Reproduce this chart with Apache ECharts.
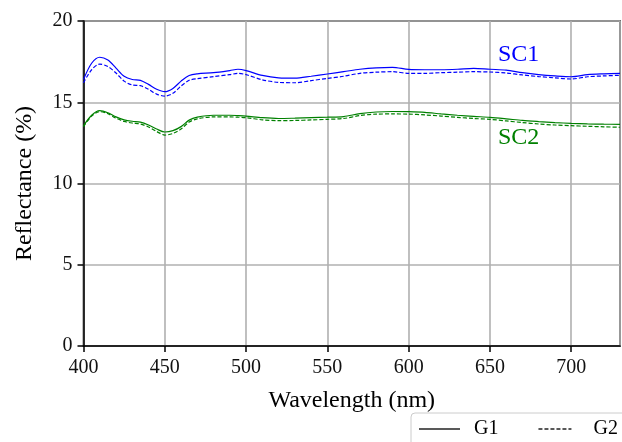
<!DOCTYPE html>
<html>
<head>
<meta charset="utf-8">
<script src="https://cdn.jsdelivr.net/npm/echarts@6/dist/echarts.min.js"></script>
<style>
html,body{margin:0;padding:0;background:#fff;}
#chart{width:622px;height:442px;}
</style>
</head>
<body>
<div id="chart"></div>
<script>
var wavelengths = [400,405,410,415,420,425,430,435,440,445,450,455,460,465,470,480,490,495,500,510,520,530,540,550,560,570,580,590,600,610,620,630,640,650,660,670,680,690,700,710,720,730];
var sc1G1 = [16.4,17.4,17.77,17.6,17.1,16.6,16.4,16.35,16.1,15.8,15.65,15.85,16.3,16.65,16.75,16.82,16.95,17.03,16.95,16.65,16.5,16.48,16.6,16.74,16.88,17.03,17.12,17.15,17.02,17.0,17.0,17.03,17.09,17.03,16.98,16.82,16.7,16.62,16.57,16.7,16.75,16.78];
var sc1G2 = [16.2,17.0,17.35,17.2,16.8,16.3,16.06,16.02,15.8,15.5,15.38,15.55,16.0,16.35,16.45,16.58,16.7,16.78,16.7,16.38,16.22,16.2,16.33,16.47,16.6,16.78,16.85,16.88,16.78,16.78,16.82,16.85,16.88,16.86,16.8,16.68,16.58,16.5,16.43,16.57,16.62,16.66];
var sc2G1 = [13.55,14.2,14.48,14.35,14.1,13.92,13.83,13.78,13.6,13.35,13.17,13.25,13.5,13.9,14.08,14.2,14.2,14.18,14.15,14.05,14.0,14.02,14.05,14.08,14.12,14.3,14.4,14.43,14.42,14.38,14.28,14.2,14.13,14.07,13.98,13.88,13.81,13.75,13.7,13.67,13.65,13.64];
var sc2G2 = [13.5,14.15,14.42,14.3,14.02,13.82,13.72,13.66,13.48,13.2,12.98,13.08,13.35,13.78,13.98,14.1,14.1,14.08,14.05,13.92,13.87,13.88,13.91,13.95,14.0,14.18,14.27,14.28,14.27,14.22,14.15,14.07,14.0,13.95,13.85,13.75,13.66,13.6,13.56,13.52,13.49,13.46];
var legendNames = ['G1','G2'];
var sampleLabels = ['SC1','SC2'];

function pairs(ys){ return wavelengths.map(function(x,i){ return [x, ys[i]]; }); }

var FONT = "'Liberation Serif','DejaVu Serif',serif";
var BLUE = '#0000ff', GREEN = '#008000';
var SOLID_ICON = 'path://M0,0H41V1.4H0Z';
var DASH_ICON = 'path://M0,0H4V1.4H0ZM6,0H10V1.4H6ZM12,0H16V1.4H12ZM18,0H22V1.4H18ZM24,0H28V1.4H24ZM30,0H33V1.4H30ZM40.95,0H41V0.01H40.95Z';

var chart = echarts.init(document.getElementById('chart'), null, {renderer:'canvas'});
function line(name, ys, color, dashed){
  return {
    name: name, type: 'line', data: pairs(ys), smooth: 0.3, symbol: 'none',
    lineStyle: {color: color, width: 1.2, type: dashed ? [4,2] : 'solid'},
    itemStyle: {color: color}, z: 3, silent: true
  };
}
var option = {
  backgroundColor: '#fff',
  animation: false,
  textStyle: {fontFamily: FONT},
  grid: {left: 83.5, top: 21, width: 536.5, height: 325, show: true, borderColor: '#000', borderWidth: 1.5, backgroundColor: 'transparent'},
  xAxis: {
    type: 'value', min: 400, max: 730, interval: 50,
    name: 'Wavelength (nm)', nameLocation: 'middle', nameGap: 43,
    nameTextStyle: {fontFamily: FONT, fontSize: 24, color: '#000'},
    axisLine: {show: true, lineStyle: {color: '#000', width: 1.5}},
    axisTick: {show: true, length: 6, lineStyle: {color: '#000', width: 1.5}},
    axisLabel: {fontFamily: FONT, fontSize: 20, color: '#111', margin: 12, showMaxLabel: false},
    splitLine: {show: true, lineStyle: {color: '#b0b0b0', width: 1.6}}
  },
  yAxis: {
    type: 'value', min: 0, max: 20, interval: 5,
    name: 'Reflectance (%)', nameLocation: 'middle', nameGap: 47,
    nameTextStyle: {fontFamily: FONT, fontSize: 24, color: '#000'},
    axisLine: {show: true, lineStyle: {color: '#000', width: 1.5}},
    axisTick: {show: true, length: 6, lineStyle: {color: '#000', width: 1.5}},
    axisLabel: {fontFamily: FONT, fontSize: 20, color: '#111', margin: 11},
    splitLine: {show: true, lineStyle: {color: '#b0b0b0', width: 1.6}}
  },
  legend: {
    data: [{name: legendNames[0], icon: SOLID_ICON}, {name: legendNames[1], icon: DASH_ICON}],
    left: 411, top: 413, width: 400, orient: 'horizontal',
    symbolKeepAspect: true,
    padding: [6, 30, 10, 8], itemGap: 40, itemWidth: 41, itemHeight: 20,
    borderColor: '#cccccc', borderWidth: 1, borderRadius: 4, backgroundColor: '#fff',
    itemStyle: {color: '#222'},
    textStyle: {fontFamily: FONT, fontSize: 20, color: '#000', padding: [0,0,0,9]}
  },
  series: [
    line(sampleLabels[0] + ' ' + legendNames[0], sc1G1, BLUE, false),
    line(sampleLabels[0] + ' ' + legendNames[1], sc1G2, BLUE, true),
    line(sampleLabels[1] + ' ' + legendNames[0], sc2G1, GREEN, false),
    line(sampleLabels[1] + ' ' + legendNames[1], sc2G2, GREEN, true),
    {name: legendNames[0], type: 'line', data: [], symbol: 'none', itemStyle: {color: '#222'}, lineStyle: {color: '#222', width: 1.2, type: 'solid'}},
    {name: legendNames[1], type: 'line', data: [], symbol: 'none', itemStyle: {color: '#222'}, lineStyle: {color: '#222', width: 1.2, type: [3,2]}}
  ],
  graphic: [
    {type: 'text', left: 498, top: 43, style: {text: sampleLabels[0], font: '24px ' + FONT, fill: BLUE}},
    {type: 'text', left: 498, top: 126, style: {text: sampleLabels[1], font: '24px ' + FONT, fill: GREEN}}
  ]
};
chart.setOption(option);
</script>
</body>
</html>
